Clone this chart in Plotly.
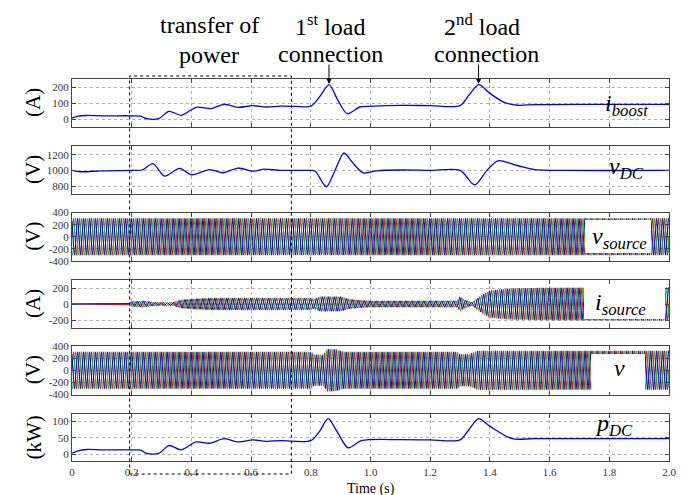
import numpy as np
import plotly.graph_objects as go

# ---------------- data ----------------
X_TICKS = [0, 0.2, 0.4, 0.6, 0.8, 1.0, 1.2, 1.4, 1.6, 1.8, 2.0]
X_TICKTEXT = ["0", "0.2", "0.4", "0.6", "0.8", "1.0", "1.2", "1.4", "1.6", "1.8", "2.0"]

# boost current (A)
IB_T = [0, 0.02, 0.05, 0.1, 0.2, 0.23, 0.25, 0.29, 0.325, 0.366, 0.416, 0.467, 0.51, 0.556,
        0.606, 0.65, 0.7, 0.75, 0.80, 0.83, 0.861, 0.89, 0.922, 0.964, 1.0, 1.1, 1.2, 1.3,
        1.33, 1.363, 1.40, 1.45, 1.494, 1.55, 1.7, 2.0]
IB_V = [5, 18, 22, 20, 20, 18, 2, 2, 48, 23, 73, 65, 92, 73,
        83, 75, 80, 79, 80, 140, 215, 120, 33, 75, 79, 85, 84, 84,
        150, 215, 160, 102, 86, 90, 92, 92]

# DC link voltage (V)
VDC_T = [0, 0.03, 0.1, 0.2, 0.235, 0.271, 0.31, 0.36, 0.40, 0.461, 0.506, 0.556, 0.606, 0.645,
         0.70, 0.8, 0.815, 0.852, 0.88, 0.911, 0.94, 0.975, 1.02, 1.1, 1.2, 1.3, 1.349, 1.39,
         1.427, 1.494, 1.55, 1.65, 2.0]
VDC_V = [1000, 983, 995, 1000, 1005, 1086, 927, 1026, 945, 1010, 970, 1030, 990, 1016,
         1000, 1000, 990, 792, 990, 1221, 1100, 968, 995, 1005, 1000, 1000, 817, 1000,
         1122, 1059, 1010, 1000, 1000]

# DC power (kW)
PDC_T = [0, 0.02, 0.05, 0.1, 0.2, 0.23, 0.25, 0.29, 0.325, 0.366, 0.416, 0.46, 0.51, 0.556,
         0.606, 0.65, 0.7, 0.8, 0.83, 0.858, 0.89, 0.925, 0.97, 1.1, 1.2, 1.3, 1.33, 1.362,
         1.40, 1.474, 1.55, 2.0]
PDC_V = [3, 10, 14, 13, 13, 12, 2, 2, 26, 13, 37, 33, 47, 37,
         43, 39, 41, 41, 70, 108, 65, 19, 41, 44, 43, 43, 75, 108,
         85, 47, 47, 47]

# three-phase envelopes (peak amplitude)
VS_T = [0, 2.0]
VS_A = [305, 305]

IS_T = [0, 0.19, 0.2, 0.24, 0.27, 0.30, 0.34, 0.37, 0.41, 0.47, 0.80, 0.81, 0.83, 0.90,
        0.93, 0.97, 1.0, 1.29, 1.30, 1.31, 1.34, 1.37, 1.40, 1.46, 1.57, 2.0]
IS_A = [0, 0, 35, 40, 25, 20, 25, 55, 65, 75, 75, 60, 92, 92,
        60, 46, 40, 40, 92, 60, 22, 105, 170, 192, 202, 206]

VL_T = [0, 0.80, 0.81, 0.84, 0.855, 0.885, 0.91, 1.29, 1.30, 1.33, 1.36, 2.0]
VL_A = [305, 305, 258, 255, 350, 345, 305, 305, 265, 265, 322, 322]

FREQ = 50.0
PHASE_COLORS = ["#ff0000", "#00d000", "#0000ff"]
PHASE_SHIFTS = [0.0, -2 * np.pi / 3, 2 * np.pi / 3]

Y_RANGES = [[-50, 250], [700, 1310], [-402, 402], [-300, 300], [-402, 402], [-22, 123]]
Y_TICKS = [[0, 100, 200], [800, 1000, 1200], [-400, -200, 0, 200, 400],
           [-200, 0, 200], [-400, -200, 0, 200, 400], [0, 50, 100]]
Y_TICKTEXT = [["0", "100", "200"], ["800", "1000", "1200"],
              ["-400", "-200", "0", "200", "400"], ["-200", "0", "200"],
              ["-400", "-200", "0", "200", "400"], ["0", "50", "100"]]
Y_UNITS = ["(A)", "(V)", "(V)", "(A)", "(V)", "(kW)"]

# ---------------- layout helpers ----------------
W, H = 688, 495
ML, MR = 64, 27


def py(p):
    return 1 - p / H


def pxp(p):
    return (p - ML) / (W - ML - MR)


PANELS = [(71, 119), (138, 186), (204.5, 253), (272, 320), (338, 386.5), (405.7, 453.3)]
FONT = "Times New Roman, Liberation Serif, serif"
AXC = "#444444"

fig = go.Figure()

BLUE = "#0000ff"
for xs, ys, ax in [(IB_T, IB_V, ""), (VDC_T, VDC_V, "2"), (PDC_T, PDC_V, "6")]:
    fig.add_trace(go.Scatter(x=xs, y=ys, mode="lines",
                             line=dict(color=BLUE, width=1.3, shape="spline", smoothing=0.8),
                             xaxis="x" + ax, yaxis="y" + ax))

t = np.linspace(0, 2.0, 6001)
for (et, ea, ax) in [(VS_T, VS_A, "3"), (IS_T, IS_A, "4"), (VL_T, VL_A, "5")]:
    env = np.interp(t, et, ea)
    for col, ph in zip(PHASE_COLORS, PHASE_SHIFTS):
        fig.add_trace(go.Scatter(x=t, y=env * np.sin(2 * np.pi * FREQ * t + ph), mode="lines",
                                 line=dict(color=col, width=1), xaxis="x" + ax, yaxis="y" + ax))

layout = dict(width=W, height=H, margin=dict(l=ML, r=MR, t=0, b=0), paper_bgcolor="white",
              plot_bgcolor="white", showlegend=False, font=dict(family=FONT, size=11, color="#222"))

for i, (top, bot) in enumerate(PANELS):
    n = "" if i == 0 else str(i + 1)
    layout["xaxis" + n] = dict(domain=[0, 1], range=[0, 2.0], anchor="y" + n, tickvals=X_TICKS,
                               ticktext=X_TICKTEXT, showticklabels=(i == 5), ticks="inside", ticklen=4,
                               tickcolor=AXC, showline=True, linecolor=AXC, linewidth=1, mirror="ticks",
                               showgrid=True, gridcolor="#b0b0b0", griddash="dot", gridwidth=1,
                               zeroline=False, automargin=False,
                               tickfont=dict(family=FONT, size=11, color="#333"))
    if i > 0:
        layout["xaxis" + n]["matches"] = "x"
    layout["yaxis" + n] = dict(domain=[py(bot), py(top)], range=Y_RANGES[i], anchor="x" + n,
                               tickvals=Y_TICKS[i], ticktext=Y_TICKTEXT[i], ticks="inside", ticklen=4,
                               tickcolor=AXC, showline=True, linecolor=AXC, linewidth=1, mirror="ticks",
                               showgrid=True, gridcolor="#b0b0b0", griddash="dot", gridwidth=1,
                               zeroline=False, automargin=False,
                               tickfont=dict(family=FONT, size=11, color="#333"))

fig.update_layout(**layout)

ann = []
for i, (top, bot) in enumerate(PANELS):
    ann.append(dict(text=Y_UNITS[i], xref="paper", yref="paper", x=pxp(25), y=py((top + bot) / 2),
                    textangle=-90, showarrow=False, font=dict(family=FONT, size=21, color="black"),
                    xanchor="center", yanchor="middle"))

ann.append(dict(text="Time (s)", xref="paper", yref="paper", x=pxp(362.5), y=py(481), showarrow=False,
                font=dict(family=FONT, size=14, color="black"), xanchor="center", yanchor="middle"))

big = dict(family=FONT, size=24, color="black")
for txt, cx, cy in [("transfer of", 201, 17), ("power", 201, 47),
                    ("1<sup>st</sup> load", 322, 17), ("connection", 322, 46),
                    ("2<sup>nd</sup> load", 474, 17), ("connection", 478, 46)]:
    ann.append(dict(text=txt, xref="paper", yref="paper", x=pxp(cx), y=py(cy), showarrow=False,
                    font=big, xanchor="center", yanchor="middle"))

for tx in [0.861, 1.362]:
    ann.append(dict(text="", xref="x", yref="paper", x=tx, y=py(76), ax=0, ay=-21, showarrow=True,
                    arrowhead=2, arrowsize=1, arrowwidth=1, arrowcolor="black"))

lab = dict(family=FONT, size=24, color="black")
for txt, cx, cy in [("<i>i</i><sub><i>boost</i></sub>", 618, 97),
                    ("<i>v</i><sub><i>DC</i></sub>", 618, 160),
                    ("<i>v</i><sub><i>source</i></sub>", 611, 230),
                    ("<i>i</i><sub><i>source</i></sub>", 612, 296),
                    ("<i>v</i>", 611, 360),
                    ("<i>p</i><sub><i>DC</i></sub>", 606, 417)]:
    ann.append(dict(text=txt, xref="paper", yref="paper", x=pxp(cx), y=py(cy), showarrow=False,
                    font=lab, xanchor="center", yanchor="middle"))

shapes = []
for (x0, x1, y0, y1) in [(577, 643, 212, 245), (576, 657, 278, 311), (583, 637, 346, 384)]:
    shapes.append(dict(type="rect", xref="paper", yref="paper", x0=pxp(x0), x1=pxp(x1), y0=py(y1), y1=py(y0),
                       fillcolor="white", line=dict(width=0), layer="above"))
shapes.append(dict(type="rect", xref="x", yref="paper", x0=0.193, x1=0.735, y0=py(466), y1=py(68),
                   line=dict(color="black", width=1, dash="dot"), layer="above"))

fig.update_layout(annotations=ann, shapes=shapes)
fig.write_html("out.html")
